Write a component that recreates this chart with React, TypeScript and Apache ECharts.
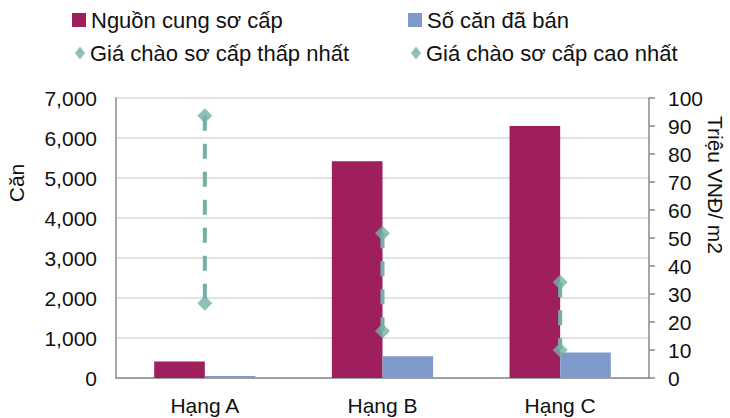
import React, { useEffect, useRef } from "react";
import * as echarts from "echarts";

const categories = ["Hạng A", "Hạng B", "Hạng C"];
const supply = [410, 5420, 6300];
const sold = [50, 545, 640];
const priceLow = [26.7, 16.8, 10];
const priceHigh = [93.7, 51.7, 34.2];

const seriesNames = [
  "Nguồn cung sơ cấp",
  "Số căn đã bán",
  "Giá chào sơ cấp thấp nhất",
  "Giá chào sơ cấp cao nhất",
];

const FONT = "'Liberation Sans', Arial, sans-serif";
const C_SUPPLY = "#9E1F5C";
const C_SOLD = "#7F9ACB";
const C_PRICE = "#76B0A5";
const C_AXIS = "#8A8A8A";
const C_TEXT = "#111111";
const FS = 21;

export default function App() {
  const ref = useRef<HTMLDivElement>(null);

  useEffect(() => {
    if (!ref.current) return;
    const chart = echarts.init(ref.current, undefined, { renderer: "svg" });

    const legendText = { fontSize: 22, color: C_TEXT, fontFamily: FONT };
    const rangeData = categories.map((_, i) => [i, priceLow[i], priceHigh[i]]);

    chart.setOption({
      animation: false,
      backgroundColor: "#ffffff",
      textStyle: { fontFamily: FONT },
      grid: { left: 116, right: 81, top: 98, bottom: 40, containLabel: false, outerBoundsMode: "none" },
      legend: [
        { data: [seriesNames[0]], left: 72, top: 9, padding: 0, icon: "rect", itemWidth: 14, itemHeight: 14, itemGap: 0, textStyle: legendText },
        { data: [seriesNames[1]], left: 408, top: 9, padding: 0, icon: "rect", itemWidth: 14, itemHeight: 14, itemGap: 0, textStyle: legendText },
        { data: [seriesNames[2]], left: 75, top: 42, padding: 0, icon: "diamond", itemWidth: 10, itemHeight: 13, itemGap: 0, textStyle: legendText },
        { data: [seriesNames[3]], left: 411, top: 42, padding: 0, icon: "diamond", itemWidth: 10, itemHeight: 13, itemGap: 0, textStyle: legendText },
      ],
      xAxis: {
        type: "category",
        data: categories,
        axisLine: { show: true, lineStyle: { color: C_AXIS, width: 1.5 } },
        axisTick: { show: false },
        axisLabel: { fontSize: FS, color: C_TEXT, margin: 17, fontFamily: FONT },
        splitLine: { show: false },
      },
      yAxis: [
        {
          type: "value",
          min: 0,
          max: 7000,
          interval: 1000,
          axisLine: { show: true, lineStyle: { color: C_AXIS, width: 1.5 } },
          axisTick: { show: false },
          axisLabel: {
            fontSize: FS,
            color: C_TEXT,
            margin: 19,
            fontFamily: FONT,
            formatter: (v: number) => v.toLocaleString("en-US"),
          },
          splitLine: { show: true, lineStyle: { color: "#D9D9D9", width: 1.5 } },
        },
        {
          type: "value",
          min: 0,
          max: 100,
          interval: 10,
          position: "right",
          axisLine: { show: true, lineStyle: { color: C_AXIS, width: 1.5 } },
          axisTick: { show: true, inside: false, length: 6, lineStyle: { color: C_AXIS, width: 1.5 } },
          axisLabel: { fontSize: FS, color: C_TEXT, margin: 19, fontFamily: FONT },
          splitLine: { show: false },
        },
      ],
      graphic: [
        {
          type: "text",
          x: 16,
          y: 183,
          rotation: -1.5 * Math.PI,
          style: { text: "Căn", fontSize: FS, fill: C_TEXT, fontFamily: FONT, align: "center", verticalAlign: "middle" },
        },
        {
          type: "text",
          x: 715,
          y: 185,
          rotation: -Math.PI / 2,
          style: { text: "Triệu VNĐ/ m2", fontSize: FS, fill: C_TEXT, fontFamily: FONT, align: "center", verticalAlign: "middle" },
        },
      ],
      series: [
        {
          name: seriesNames[0],
          type: "bar",
          data: supply,
          itemStyle: { color: C_SUPPLY },
          barGap: "0%",
          barCategoryGap: "43%",
          z: 2,
        },
        {
          name: seriesNames[1],
          type: "bar",
          data: sold,
          itemStyle: { color: C_SOLD },
          barGap: "0%",
          barCategoryGap: "43%",
          z: 2,
        },
        {
          name: "range",
          type: "custom",
          yAxisIndex: 1,
          data: rangeData,
          z: 3,
          silent: true,
          renderItem: (params: any, api: any) => {
            const x = api.value(0);
            const lo = api.coord([x, api.value(1)]);
            const hi = api.coord([x, api.value(2)]);
            return {
              type: "line",
              shape: { x1: hi[0], y1: hi[1], x2: lo[0], y2: lo[1] },
              style: { stroke: C_PRICE, lineWidth: 4, lineDash: [15, 13], fill: null },
            };
          },
        },
        {
          name: seriesNames[2],
          type: "scatter",
          yAxisIndex: 1,
          data: priceLow,
          symbol: "diamond",
          symbolSize: [15, 15],
          itemStyle: { color: C_PRICE },
          z: 4,
        },
        {
          name: seriesNames[3],
          type: "scatter",
          yAxisIndex: 1,
          data: priceHigh,
          symbol: "diamond",
          symbolSize: [15, 15],
          itemStyle: { color: C_PRICE },
          z: 4,
        },
      ],
    });

    return () => chart.dispose();
  }, []);

  return <div ref={ref} style={{ width: 730, height: 418, position: "fixed", left: 0, top: 0 }} />;
}
